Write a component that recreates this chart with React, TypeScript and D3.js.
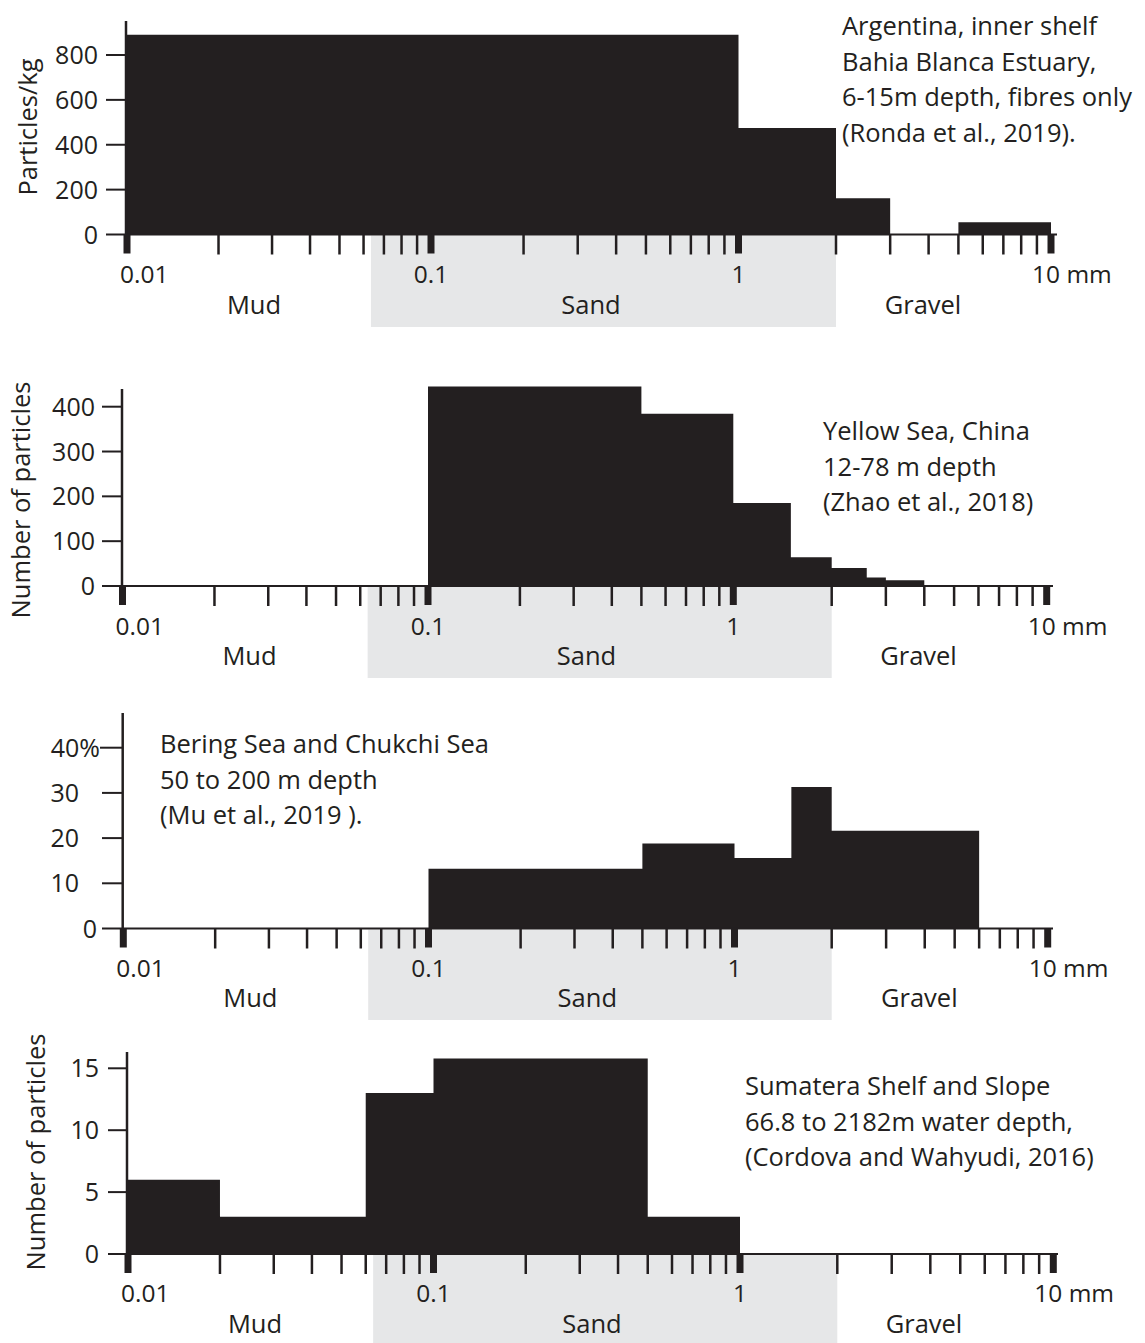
import React from 'react';
import * as d3 from 'd3';

// grain-size bins: [from mm, to mm, value]
const argentinaBins: [number, number, number][] = [
  [0.01, 1, 890],
  [1, 2, 475],
  [2, 3, 162],
  [5, 10, 55],
];
const yellowSeaBins: [number, number, number][] = [
  [0.1, 0.5, 445],
  [0.5, 1, 384],
  [1, 1.5, 185],
  [1.5, 2, 64],
  [2, 2.6, 40],
  [2.6, 3, 19],
  [3, 4, 13],
];
const beringBins: [number, number, number][] = [
  [0.1, 0.5, 13.2],
  [0.5, 1, 18.8],
  [1, 1.5, 15.6],
  [1.5, 2, 31.3],
  [2, 6, 21.6],
];
const sumateraBins: [number, number, number][] = [
  [0.01, 0.02, 6],
  [0.02, 0.06, 3],
  [0.06, 0.1, 13],
  [0.1, 0.5, 15.8],
  [0.5, 1, 3],
];

const argentinaTicks = [0, 200, 400, 600, 800];
const yellowSeaTicks = [0, 100, 200, 300, 400];
const beringTicks = [0, 10, 20, 30, 40];
const sumateraTicks = [0, 5, 10, 15];

const argentinaNote = ['Argentina, inner shelf', 'Bahia Blanca Estuary,', '6-15m depth, fibres only', '(Ronda et al., 2019).'];
const yellowSeaNote = ['Yellow Sea, China', '12-78 m depth', '(Zhao et al., 2018)'];
const beringNote = ['Bering Sea and Chukchi Sea', '50 to 200 m depth', '(Mu et al., 2019 ).'];
const sumateraNote = ['Sumatera Shelf and Slope', '66.8 to 2182m water depth,', '(Cordova and Wahyudi, 2016)'];

const decades = [0.01, 0.1, 1, 10];
const sizeClasses = ['Mud', 'Sand', 'Gravel'];

const INK = '#231f20';
const SHADE = '#e6e7e8';
const FONT = "'Open Sans', sans-serif";

// minor log ticks 2..9 in each decade
const minorTicks: number[] = [];
[0.01, 0.1, 1].forEach(d => { for (let k = 2; k <= 9; k++) minorTicks.push(d * k); });

// the hand-drawn axis isn't evenly spaced, so each panel pins 0.01, 0.1, 1, 2 and 10 mm
const anchors = [0.01, 0.1, 1, 2, 10];

const panels = [
  {
    bins: argentinaBins, yTicks: argentinaTicks, yTitle: 'Particles/kg', note: argentinaNote,
    xr: [127, 431, 738.5, 836, 1051], zeroY: 234.5, yRef: 800, refY: 55, axisX: 126, axisTop: 21, baseEnd: 1057,
    labelEnd: 98, tickStart: 106, titleX: 37, titleY: 127, xLabelY: 283, catY: 314, shadeBottom: 327,
    noteX: 842, noteY: 35,
  },
  {
    bins: yellowSeaBins, yTicks: yellowSeaTicks, yTitle: 'Number of particles', note: yellowSeaNote,
    xr: [122.5, 428, 733.3, 831.7, 1046.7], zeroY: 586, yRef: 400, refY: 406.7, axisX: 122, axisTop: 389, baseEnd: 1053,
    labelEnd: 95, tickStart: 102, titleX: 30, titleY: 500, xLabelY: 635, catY: 665, shadeBottom: 678,
    noteX: 823, noteY: 440,
  },
  {
    bins: beringBins, yTicks: beringTicks, yTitle: '', note: beringNote,
    xr: [123.3, 428.5, 734.5, 831.7, 1047.7], zeroY: 928.5, yRef: 40, refY: 747.7, axisX: 122.7, axisTop: 713, baseEnd: 1053,
    labelEnd: 79, tickStart: 102, titleX: 0, titleY: 0, xLabelY: 977, catY: 1007, shadeBottom: 1020,
    noteX: 160, noteY: 753,
  },
  {
    bins: sumateraBins, yTicks: sumateraTicks, yTitle: 'Number of particles', note: sumateraNote,
    xr: [128, 433.5, 740, 837.3, 1053.3], zeroY: 1254, yRef: 15, refY: 1068.3, axisX: 127, axisTop: 1052, baseEnd: 1058,
    labelEnd: 99, tickStart: 108, titleX: 45, titleY: 1152, xLabelY: 1302, catY: 1333, shadeBottom: 1343,
    noteX: 745, noteY: 1095,
  },
];

function Panel({ p, idx }: { p: any; idx: number }) {
  const x = d3.scaleLog().domain(anchors).range(p.xr);
  const y = d3.scaleLinear().domain([0, p.yRef]).range([p.zeroY, p.refY]);
  const catX = [p.xr[0] + 127, p.xr[0] + 464, p.xr[0] + 796];

  // one stepped outline for all bars, so adjacent bars have no seams
  const pts: [number, number][] = [];
  p.bins.forEach((b: number[], i: number) => {
    pts.push([b[0], b[2]]);
    const next = p.bins[i + 1];
    if (!next) pts.push([b[1], b[2]]);
    else if (next[0] !== b[1]) pts.push([b[1], 0]);
  });
  const area = d3.area<[number, number]>()
    .x(d => x(d[0]))
    .y0(p.zeroY)
    .y1(d => y(d[1]))
    .curve(d3.curveStepAfter);

  const yLabel = (v: number) => {
    if (idx === 2) {
      if (v === 40) return { text: '40%', end: 100 };
      if (v === 0) return { text: '0', end: 97 };
    }
    return { text: String(v), end: p.labelEnd };
  };

  return (
    <g>
      <rect x={x(0.0625) + 2} y={p.zeroY + 1} width={x(2) - x(0.0625) - 2} height={p.shadeBottom - p.zeroY - 1} fill={SHADE} />
      <path d={area(pts) || ''} fill={INK} />
      <line x1={p.axisX} x2={p.baseEnd} y1={p.zeroY} y2={p.zeroY} stroke={INK} strokeWidth={2} />
      <line x1={p.axisX} x2={p.axisX} y1={p.axisTop} y2={p.zeroY + 1} stroke={INK} strokeWidth={2.5} />
      {p.yTicks.map((v: number) => {
        const l = yLabel(v);
        return (
          <g key={v}>
            <line x1={idx === 2 && v === 40 ? 100 : p.tickStart} x2={p.axisX} y1={y(v)} y2={y(v)} stroke={INK} strokeWidth={2} />
            <text x={l.end} y={y(v)} dy="0.36em" textAnchor="end" fontSize={25} fill={INK} fontFamily={FONT}>{l.text}</text>
          </g>
        );
      })}
      {minorTicks.map(t => (
        <line key={t} x1={x(t)} x2={x(t)} y1={p.zeroY} y2={p.zeroY + 20} stroke={INK} strokeWidth={2.5} />
      ))}
      {decades.map(t => (
        <line key={t} x1={x(t)} x2={x(t)} y1={p.zeroY} y2={p.zeroY + 19} stroke={INK} strokeWidth={7} />
      ))}
      <g fontFamily={FONT} fontSize={24.5} fill={INK}>
        <text x={x(0.01) - 7} y={p.xLabelY}>0.01</text>
        <text x={x(0.1)} y={p.xLabelY} textAnchor="middle">0.1</text>
        <text x={x(1)} y={p.xLabelY} textAnchor="middle">1</text>
        <text x={x(10) - 19} y={p.xLabelY}>10 mm</text>
      </g>
      <g fontFamily={FONT} fontSize={25.5} fill={INK}>
        {sizeClasses.map((c, i) => (
          <text key={c} x={catX[i]} y={p.catY} textAnchor="middle">{c}</text>
        ))}
        {p.note.map((s: string, i: number) => (
          <text key={i} x={p.noteX} y={p.noteY + i * 35.5}>{s}</text>
        ))}
        {p.yTitle && (
          <text transform={`translate(${p.titleX},${p.titleY}) rotate(-90)`} textAnchor="middle">{p.yTitle}</text>
        )}
      </g>
    </g>
  );
}

export default function App() {
  return (
    <div style={{ position: 'absolute', left: 0, top: 0 }}>
      <svg width={1145} height={1343} style={{ display: 'block', background: '#fff' }}>
        {panels.map((p, i) => <Panel key={i} p={p} idx={i} />)}
      </svg>
    </div>
  );
}
